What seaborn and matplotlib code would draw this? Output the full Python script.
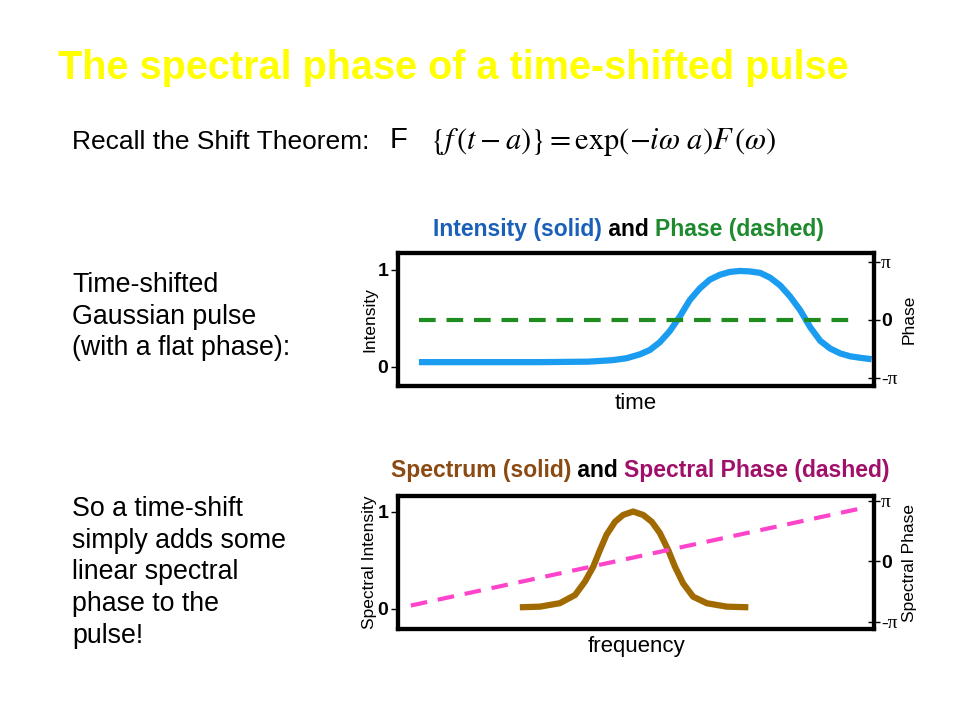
import numpy as np
import pandas as pd
import matplotlib.pyplot as plt
import seaborn as sns

# values (x in arbitrary units 0..100)
time_pts = [4.4, 30, 40, 45, 48, 50.8, 52.9, 55.0, 57.1, 59.2, 61.3, 63.4, 65.5,
            67.6, 69.7, 71.8, 73.9, 76.1, 78.2, 80.3, 82.4, 84.5, 86.6, 88.7,
            90.8, 92.9, 95.0, 97.1, 99.5]
intensity = [0.05, 0.05, 0.055, 0.07, 0.09, 0.13, 0.175, 0.255, 0.37, 0.52, 0.69,
             0.81, 0.90, 0.95, 0.98, 0.99, 0.985, 0.97, 0.92, 0.84, 0.725, 0.585,
             0.41, 0.27, 0.19, 0.14, 0.11, 0.095, 0.08]
phase_t = [4.4, 96.5]
phase_vals = [0.0, 0.0]

freq_pts = [25.6, 29.8, 34.0, 37.2, 39.3, 41.0, 42.4, 43.8, 45.6, 47.3, 49.4, 51.5,
            53.3, 55.0, 56.8, 58.2, 59.9, 62.0, 64.9, 69.1, 73.6]
spectrum = [0.014, 0.02, 0.056, 0.14, 0.28, 0.43, 0.60, 0.76, 0.895, 0.965, 1.0,
            0.965, 0.895, 0.78, 0.60, 0.43, 0.26, 0.123, 0.055, 0.02, 0.014]
phase_f = [2.7, 96.6]
spec_phase = [-2.3, 2.72]

phase_ticks = [-np.pi, 0, np.pi]
phase_ticklabels = ['-π', '0', 'π']

sns.set_style("white")
plt.rcParams['font.family'] = ['Liberation Sans', 'DejaVu Sans']
plt.rcParams['mathtext.fontset'] = 'stix'
plt.rcParams['text.color'] = 'black'
plt.rcParams['axes.labelcolor'] = 'black'
plt.rcParams['ytick.color'] = 'black'

fig = plt.figure(figsize=(9.6, 7.2), dpi=100)
renderer = fig.canvas.get_renderer()

# slide text
fig.text(58 / 960, 1 - 68 / 720, 'The spectral phase of a time-shifted pulse',
         color='#ffff00', fontsize=28.5, fontweight='bold', va='center', ha='left')
fig.text(72 / 960, 1 - 142 / 720, 'Recall the Shift Theorem:', fontsize=19,
         va='center', ha='left')
fig.text(390 / 960, 1 - 140 / 720, 'F', fontsize=21, va='center', ha='left')
fig.text(430 / 960, 1 - 142 / 720,
         r'$\left\{f\,(t-a)\right\} = \mathrm{exp}(-i\omega\ a)F\,(\omega)$',
         fontsize=22, va='center', ha='left')

left_blocks = [(['Time-shifted', 'Gaussian pulse', '(with a flat phase):'], 285),
               (['So a time-shift', 'simply adds some', 'linear spectral',
                 'phase to the', 'pulse!'], 509)]
for lines, y0 in left_blocks:
    for i, line in enumerate(lines):
        fig.text(72 / 960, 1 - (y0 + i * 31.7) / 720, line, fontsize=19.3,
                 va='center', ha='left')


def colored_title(x, y, pieces):
    # pieces share one baseline; each starts where the previous one ends
    for s, c in pieces:
        t = fig.text(x, y, s, color=c, fontsize=16.5, fontweight='bold',
                     va='baseline', ha='left')
        x = t.get_window_extent(renderer).x1 / fig.bbox.width


def style_axes(ax, ax2, ylab, y2lab, xlab, ylim, y2lim):
    ax.set_xlim(0, 100)
    ax.set_ylim(*ylim)
    ax.set_yticks([0, 1])
    ax.set_yticklabels(['0', '1'], fontweight='bold', fontsize=14)
    ax.set_xticks([])
    ax.set_ylabel(ylab, fontsize=12.5, labelpad=0)
    ax.set_xlabel(xlab, fontsize=16, labelpad=5)
    ax.tick_params(axis='y', direction='out', length=5, width=1, left=True, pad=2)
    ax2.set_ylim(*y2lim)
    ax2.set_yticks(phase_ticks)
    ax2.set_yticklabels(phase_ticklabels, fontsize=14, family='Liberation Serif')
    ax2.get_yticklabels()[1].set_fontweight('bold')
    ax2.get_yticklabels()[1].set_family('Liberation Sans')
    ax2.tick_params(axis='y', direction='inout', length=8, width=1, right=True, pad=1)
    ax2.set_ylabel(y2lab, fontsize=12.5, labelpad=3)
    for a in (ax, ax2):
        for sp in a.spines.values():
            sp.set_visible(True)
            sp.set_linewidth(3)
            sp.set_color('black')


# top plot
ax1 = fig.add_axes([398 / 960, 1 - 386 / 720, 476 / 960, 133 / 720])
ax1b = ax1.twinx()
df_t = pd.DataFrame({'time': time_pts, 'Intensity': intensity})
df_p = pd.DataFrame({'time': phase_t, 'Phase': phase_vals})
sns.lineplot(data=df_t, x='time', y='Intensity', ax=ax1, color='#1a9cf0',
             linewidth=4.5, sort=False, solid_joinstyle='round', solid_capstyle='butt')
sns.lineplot(data=df_p, x='time', y='Phase', ax=ax1b, color='#1e8c1e',
             linewidth=3, sort=False)
ax1b.lines[0].set_dashes([4, 2.6])
style_axes(ax1, ax1b, 'Intensity', 'Phase', 'time', (-0.196, 1.175),
           (-np.pi - 0.45, np.pi + 0.47))
colored_title(433 / 960, 1 - 236 / 720,
              [('Intensity (solid)', '#1a5fb8'), (' and ', 'black'),
               ('Phase (dashed)', '#1e8a2e')])

# bottom plot
ax2 = fig.add_axes([398 / 960, 1 - 629 / 720, 476 / 960, 133 / 720])
ax2b = ax2.twinx()
df_f = pd.DataFrame({'frequency': freq_pts, 'Spectral Intensity': spectrum})
df_sp = pd.DataFrame({'frequency': phase_f, 'Spectral Phase': spec_phase})
sns.lineplot(data=df_f, x='frequency', y='Spectral Intensity', ax=ax2,
             color='#a06a00', linewidth=4.5, sort=False, solid_joinstyle='round',
             solid_capstyle='butt')
sns.lineplot(data=df_sp, x='frequency', y='Spectral Phase', ax=ax2b,
             color='#ff44cc', linewidth=3, sort=False)
ax2b.lines[0].set_dashes([4, 2.6])
style_axes(ax2, ax2b, 'Spectral Intensity', 'Spectral Phase', 'frequency',
           (-0.21, 1.16), (-np.pi - 0.38, np.pi + 0.26))
colored_title(391 / 960, 1 - 477 / 720,
              [('Spectrum (solid)', '#8a4a12'), (' and ', 'black'),
               ('Spectral Phase (dashed)', '#a0106a')])

fig.savefig('out.png', dpi=100)
